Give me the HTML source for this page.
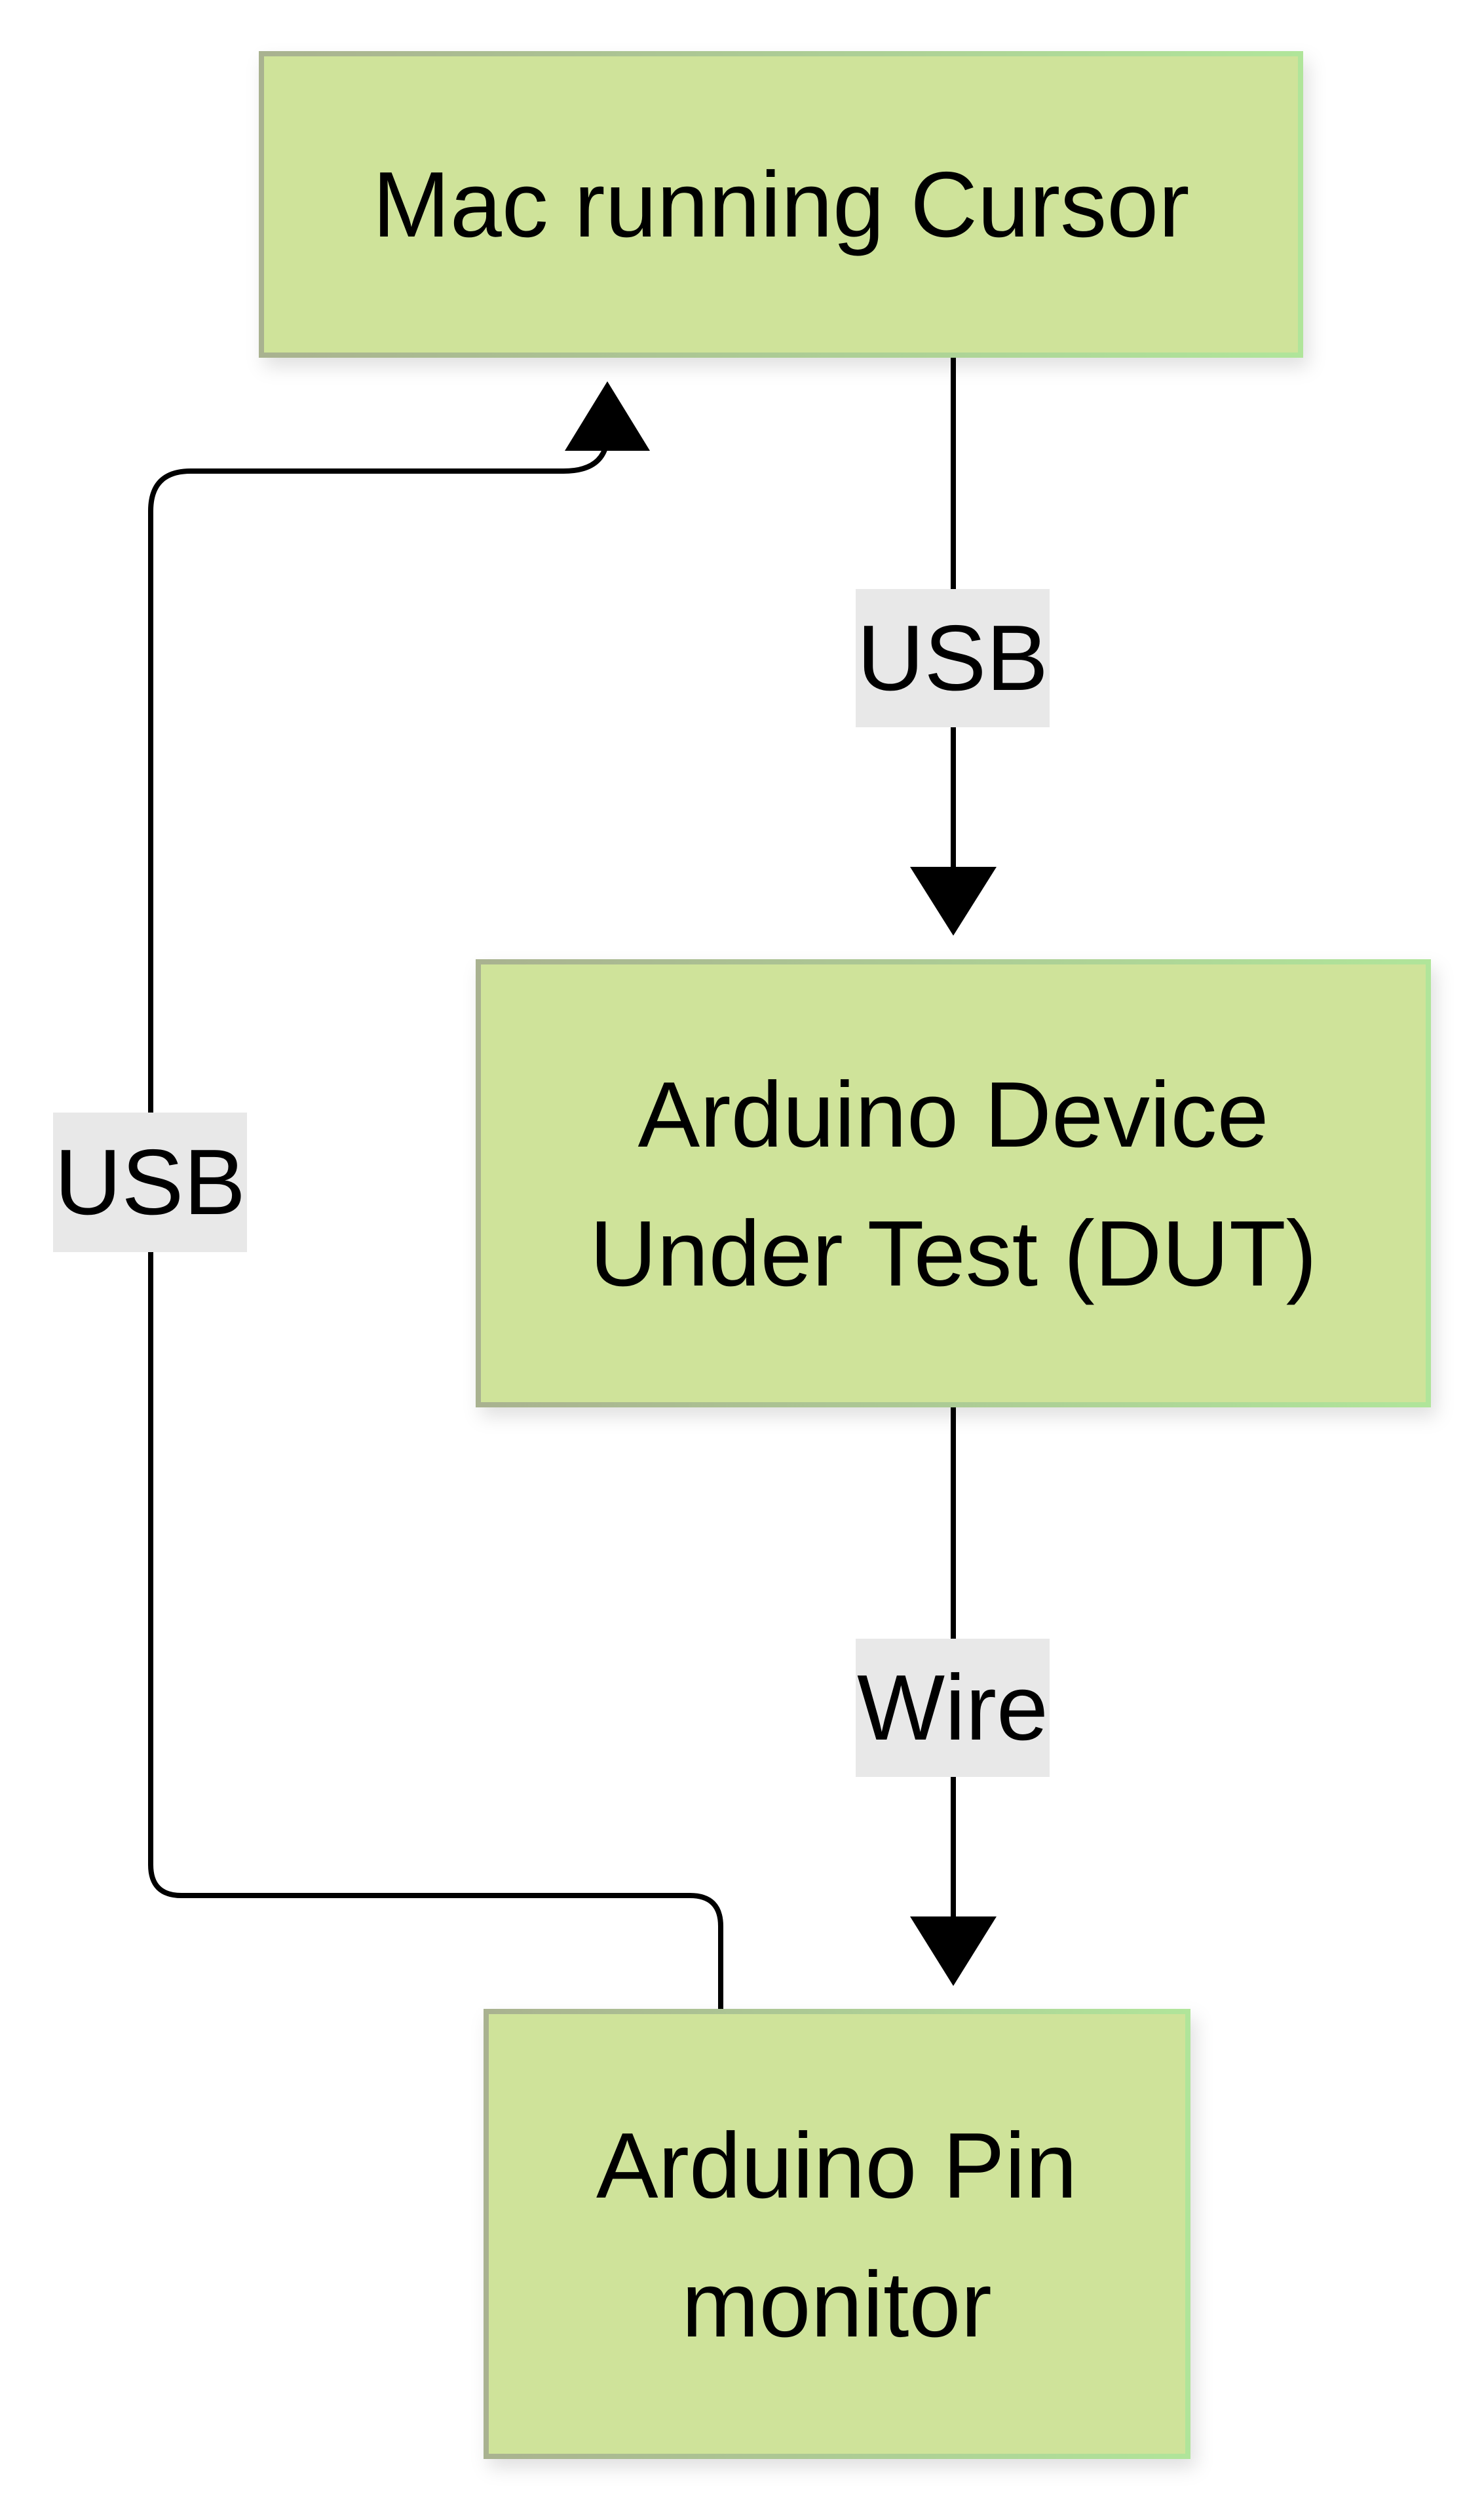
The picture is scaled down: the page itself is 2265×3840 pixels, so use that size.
<!DOCTYPE html>
<html><head><meta charset="utf-8"><style>
html,body{margin:0;padding:0;background:#fff;}
svg{display:block;}
text{font-family:"Liberation Sans",Arial,sans-serif;font-size:142px;fill:#000;}
</style></head><body>
<svg width="2265" height="3840" viewBox="0 0 2265 3840" xmlns="http://www.w3.org/2000/svg">
<defs>
<linearGradient id="bd" x1="0" y1="0" x2="1" y2="0">
<stop offset="0" stop-color="#a9b290"/><stop offset="1" stop-color="#b0e59a"/>
</linearGradient>
<filter id="sh" x="-10%" y="-10%" width="130%" height="130%">
<feDropShadow dx="8" dy="14" stdDeviation="14" flood-color="#000" flood-opacity="0.12"/>
</filter>
</defs>
<g filter="url(#sh)">
<rect x="399" y="82" width="1586" height="460" fill="#cfe39a" stroke="url(#bd)" stroke-width="8"/>
<rect x="730" y="1468" width="1450" height="676" fill="#cfe39a" stroke="url(#bd)" stroke-width="8"/>
<rect x="742" y="3070" width="1071" height="679" fill="#cfe39a" stroke="url(#bd)" stroke-width="8"/>
</g>
<text x="1192" y="361" text-anchor="middle">Mac running Cursor</text>
<text x="1455" y="1750" text-anchor="middle">Arduino Device</text>
<text x="1455" y="1962" text-anchor="middle">Under Test (DUT)</text>
<text x="1277" y="3354" text-anchor="middle">Arduino Pin</text>
<text x="1277" y="3566" text-anchor="middle">monitor</text>
<g stroke="#000" stroke-width="8" fill="none">
<line x1="1455" y1="546" x2="1455" y2="1330"/>
<line x1="1455" y1="2148" x2="1455" y2="2930"/>
<path d="M1100 3066 L1100 2940 Q1100 2893 1053 2893 L277 2893 Q230 2893 230 2846 L230 780 Q230 719 291 719 L860 719 Q915 719 925 680"/>
</g>
<polygon points="1389,1323 1521,1323 1455,1428" fill="#000"/>
<polygon points="1389,2925 1521,2925 1455,3031" fill="#000"/>
<polygon points="862,688 992,688 927,582" fill="#000"/>
<rect x="1306" y="899" width="296" height="211" fill="#e8e8e8"/>
<text x="1454" y="1053" text-anchor="middle">USB</text>
<rect x="1306" y="2501" width="296" height="211" fill="#e8e8e8"/>
<text x="1454" y="2655" text-anchor="middle">Wire</text>
<rect x="81" y="1698" width="296" height="213" fill="#e8e8e8"/>
<text x="229" y="1853" text-anchor="middle">USB</text>
</svg>
</body></html>
